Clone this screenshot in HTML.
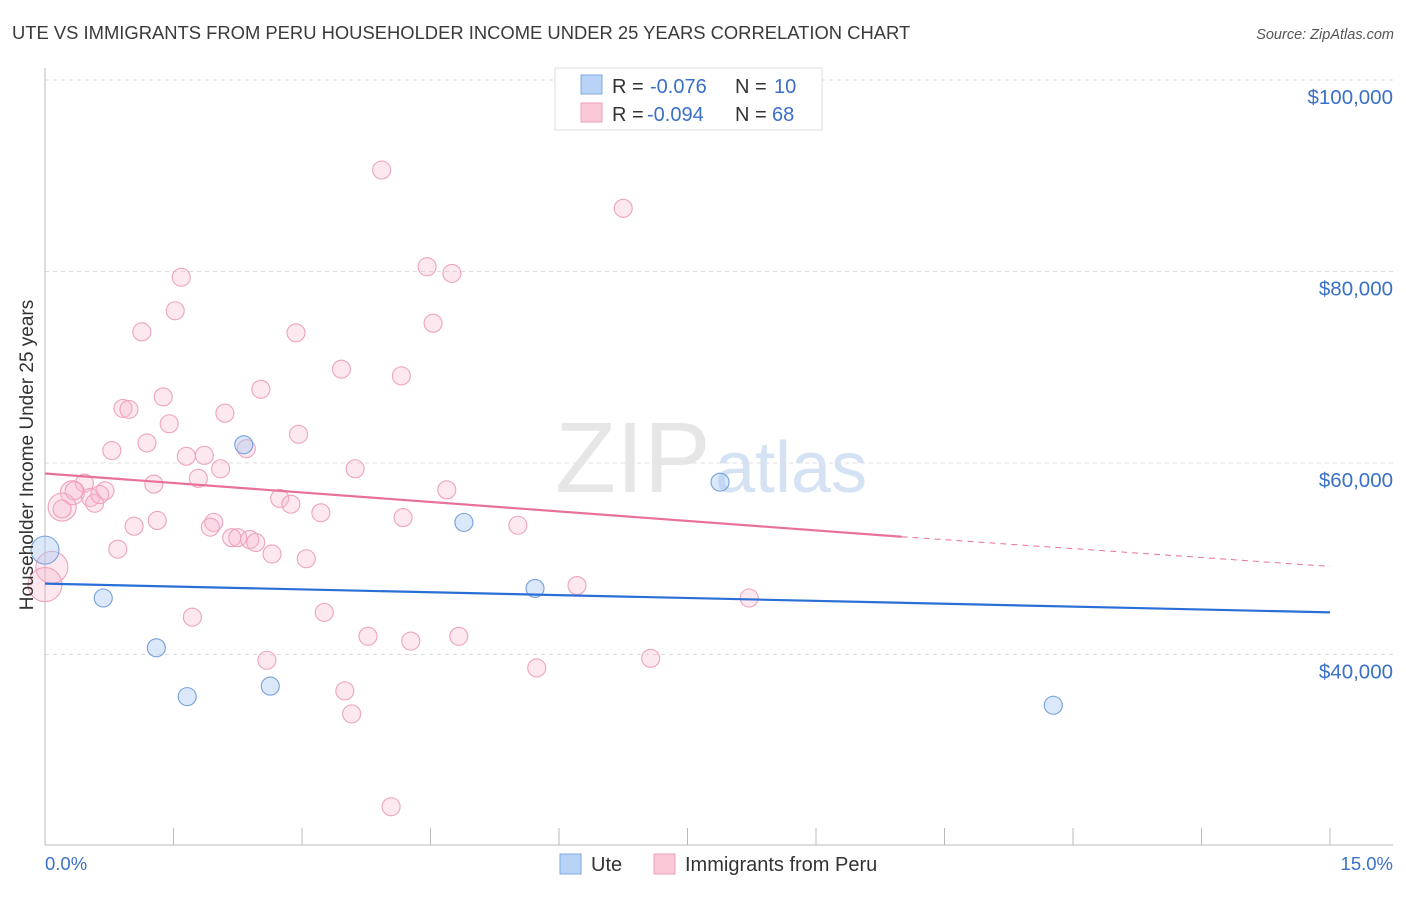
<!DOCTYPE html>
<html><head><meta charset="utf-8"><style>
body{margin:0;background:#fff;font-family:"Liberation Sans",sans-serif;}
svg text{font-family:"Liberation Sans",sans-serif;}
</style></head><body>
<svg width="1406" height="892">
<text x="12" y="39" font-size="18.4" fill="#3a3a3a">UTE VS IMMIGRANTS FROM PERU HOUSEHOLDER INCOME UNDER 25 YEARS CORRELATION CHART</text>
<text x="1394" y="39" font-size="14.5" fill="#555" font-style="italic" text-anchor="end">Source: ZipAtlas.com</text>
<g id="grid"></g>
<text x="555" y="492" font-size="100" fill="#e6e6e6" font-family="Liberation Serif">ZIP</text>
<text x="715" y="492" font-size="72" fill="#d4e2f4">atlas</text>
<g id="axes"></g>
<g id="peru"></g>
<g id="ute"></g>
<g id="lines"></g>
<text x="33" y="455" font-size="19" fill="#333" text-anchor="middle" transform="rotate(-90 33 455)">Householder Income Under 25 years</text>
<text x="45" y="870" font-size="18.5" fill="#3a70c8">0.0%</text>
<text x="1393" y="870" font-size="18.5" fill="#3a70c8" text-anchor="end">15.0%</text>
<g>
<rect x="555" y="68" width="267" height="62" fill="#fff" stroke="#ddd"/>
<rect x="581" y="75" width="21" height="19" fill="#b8d3f5" stroke="#7ea8e0"/>
<rect x="581" y="103" width="21" height="19" fill="#fbc8d8" stroke="#eea0bb"/>
<text x="612" y="93" font-size="20" fill="#333">R = <tspan fill="#3a70c8" x="650">-0.076</tspan><tspan x="735">N = </tspan><tspan fill="#3a70c8" x="774">10</tspan></text>
<text x="612" y="121" font-size="20" fill="#333">R = <tspan fill="#3a70c8" x="647">-0.094</tspan><tspan x="735">N = </tspan><tspan fill="#3a70c8" x="772">68</tspan></text>
</g>
<g>
<rect x="560" y="854" width="21" height="20" fill="#b8d3f5" stroke="#7ea8e0"/>
<text x="591" y="871" font-size="20" fill="#333">Ute</text>
<rect x="654" y="854" width="21" height="20" fill="#fbc8d8" stroke="#eea0bb"/>
<text x="685" y="871" font-size="20" fill="#333">Immigrants from Peru</text>
</g>
</svg>
<script>
const yTicks=[100000,80000,60000,40000];
const yTickLabels=["$100,000","$80,000","$60,000","$40,000"];
const xTicks=[0,1.5,3,4.5,6,7.5,9,10.5,12,13.5,15];
const uteX=[0.0,0.68,1.30,1.66,2.32,2.63,4.89,5.72,7.88,11.77];
const uteY=[50900,45900,40700,35600,61900,36700,53800,46900,58000,34700];
const uteR=[14,9,9,9,9,9,9,9,9,9];
const peruX=[3.93,6.75,4.46,4.75,1.59,1.52,4.53,1.13,2.93,3.46,4.16,2.52,1.38,0.91,0.98,2.10,1.45,2.96,1.19,2.35,0.78,1.65,1.86,2.05,3.62,1.79,1.27,0.46,4.69,0.32,0.70,0.53,2.74,0.58,2.87,0.20,3.22,4.18,1.31,1.97,1.04,1.93,5.52,2.18,2.25,2.39,2.46,0.85,2.65,3.05,0.08,0.0,6.21,8.22,3.26,1.72,4.83,3.77,4.27,7.07,2.59,5.74,3.50,3.58,4.04,0.34,0.64,0.20];
const peruY=[90600,86600,80500,79800,79400,75900,74600,73700,73600,69800,69100,67700,66900,65700,65600,65200,64100,63000,62100,61500,61300,60700,60800,59400,59400,58400,57800,57900,57200,56900,57100,56400,56300,55800,55700,55400,54800,54300,54000,53800,53400,53300,53500,52200,52200,52000,51700,51000,50500,50000,49100,47300,47200,45900,44400,43900,41900,41900,41400,39600,39400,38600,36200,33800,24100,57100,56700,55200];
const peruR=[9,9,9,9,9,9,9,9,9,9,9,9,9,9,9,9,9,9,9,9,9,9,9,9,9,9,9,9,9,12,9,9,9,9,9,14,9,9,9,9,9,9,9,9,9,9,9,9,9,9,16,17,9,9,9,9,9,9,9,9,9,9,9,9,9,9,9,9];
const uteTrend=[[0,47400],[15,44400]];
const peruTrend=[[0,58900],[10,52300],[15,49200]];
const X=v=>45+v/15*1285, Y=v=>80+(100000-v)/20000*191.5;
const NS="http://www.w3.org/2000/svg";
function mk(t,a,p){const e=document.createElementNS(NS,t);for(const k in a)e.setAttribute(k,a[k]);p.appendChild(e);return e;}
const grid=document.getElementById('grid'),axes=document.getElementById('axes');
yTicks.forEach((t,i)=>{
 const l=mk('line',{x1:45,x2:1393,y1:Y(t),y2:Y(t),stroke:'#ddd','stroke-dasharray':'4,4'},grid);
 
 
 const tx=mk('text',{x:1393,y:Y(t)+24,'font-size':20.5,fill:'#3a70c8','text-anchor':'end'},grid);
 tx.textContent=yTickLabels[i];
 
 
});
const ya=mk('line',{x1:45,x2:45,y1:68,y2:845,stroke:'#bbb'},axes);


const xa=mk('line',{x1:45,x2:1393,y1:845,y2:845,stroke:'#bbb'},axes);


xTicks.forEach(t=>{const l=mk('line',{x1:X(t),x2:X(t),y1:828,y2:845,stroke:'#bbb'},axes);
 
 });
const pg=document.getElementById('peru');
peruX.forEach((v,i)=>{const c=mk('circle',{cx:X(v),cy:Y(peruY[i]),r:peruR[i],fill:'rgba(248,180,204,0.3)',stroke:'#eea2bd','stroke-width':1.1},pg);
 
 });
const ug=document.getElementById('ute');
uteX.forEach((v,i)=>{const c=mk('circle',{cx:X(v),cy:Y(uteY[i]),r:uteR[i],fill:'rgba(165,198,240,0.4)',stroke:'#74a0dc','stroke-width':1.1},ug);
 
 });
const lg=document.getElementById('lines');
const bl=mk('line',{x1:X(uteTrend[0][0]),y1:Y(uteTrend[0][1]),x2:X(uteTrend[1][0]),y2:Y(uteTrend[1][1]),stroke:'#2a6fd6','stroke-width':2.2},lg);


const pl=mk('line',{x1:X(peruTrend[0][0]),y1:Y(peruTrend[0][1]),x2:X(peruTrend[1][0]),y2:Y(peruTrend[1][1]),stroke:'#e8709a','stroke-width':2.2},lg);


const pd=mk('line',{x1:X(peruTrend[1][0]),y1:Y(peruTrend[1][1]),x2:X(peruTrend[2][0]),y2:Y(peruTrend[2][1]),stroke:'#e8709a','stroke-width':1,'stroke-dasharray':'6,5'},lg);


</script>
</body></html>
